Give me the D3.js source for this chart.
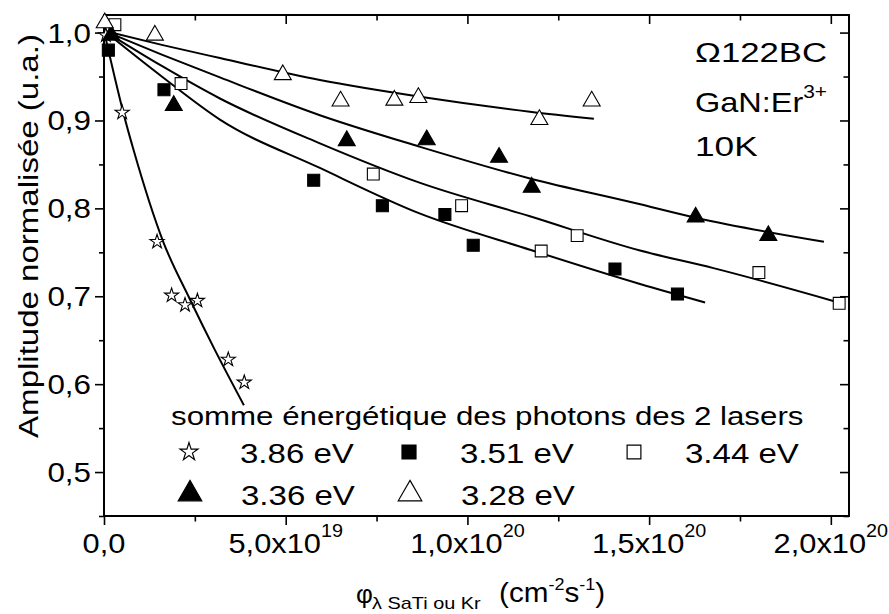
<!DOCTYPE html>
<html><head><meta charset="utf-8">
<script src="https://cdn.jsdelivr.net/npm/d3@7"></script>
<style>
body{margin:0;background:#fff}
text{font-family:"Liberation Sans",Arial,sans-serif;fill:#000}
</style>
</head><body>
<svg id="c" width="889" height="614"></svg>
<script>
// ---- data ----
const xMajor = [0, 5e19, 1e20, 1.5e20, 2e20];
const xMinor = [2.5e19, 7.5e19, 1.25e20, 1.75e20];
const xTickBase = ["0,0", "5,0x10", "1,0x10", "1,5x10", "2,0x10"];
const xTickExp  = ["", "19", "20", "20", "20"];
const yMajor = [0.5, 0.6, 0.7, 0.8, 0.9, 1.0];
const yMinor = [0.45, 0.55, 0.65, 0.75, 0.85, 0.95];
const yTickLabels = ["0,5", "0,6", "0,7", "0,8", "0,9", "1,0"];

const seriesNames = ["3.86 eV", "3.51 eV", "3.44 eV", "3.36 eV", "3.28 eV"];

// 3.86 eV (open stars)
const s386X = [0.05e19, 0.5e19, 1.46e19, 1.86e19, 2.23e19, 2.57e19, 3.42e19, 3.86e19];
const s386Y = [0.997, 0.909, 0.762, 0.701, 0.690, 0.695, 0.628, 0.602];
// 3.51 eV (filled squares)
const s351X = [0.12e19, 1.65e19, 5.77e19, 7.66e19, 9.38e19, 10.16e19, 14.06e19, 15.78e19];
const s351Y = [0.980, 0.935, 0.832, 0.803, 0.793, 0.758, 0.731, 0.7025];
// 3.44 eV (open squares)
const s344X = [0.3e19, 2.12e19, 7.41e19, 9.84e19, 12.03e19, 13.02e19, 18.02e19, 20.23e19];
const s344Y = [1.009, 0.942, 0.839, 0.803, 0.7515, 0.769, 0.727, 0.692];
// 3.36 eV (filled triangles)
const s336X = [0.2e19, 1.92e19, 6.68e19, 8.88e19, 10.87e19, 11.77e19, 16.28e19, 18.28e19];
const s336Y = [0.997, 0.917, 0.877, 0.878, 0.858, 0.824, 0.790, 0.769];
// 3.28 eV (open triangles)
const s328X = [0.02e19, 1.4e19, 4.92e19, 6.51e19, 7.99e19, 8.65e19, 11.98e19, 13.42e19];
const s328Y = [1.011, 0.997, 0.952, 0.922, 0.923, 0.926, 0.901, 0.922];

// fitted curves
const f386X = [0, 0.62e19, 0.81e19, 1.63e19, 2.37e19, 3.05e19, 3.85e19];
const f386Y = [1.002, 0.895, 0.867, 0.762, 0.696, 0.639, 0.576];
const f351X = [0, 1.59e19, 3.19e19, 5.94e19, 8.70e19, 11.72e19, 14.75e19, 16.54e19];
const f351Y = [1.002, 0.950, 0.901, 0.846, 0.794, 0.753, 0.714, 0.693];
const f344X = [0, 1.59e19, 3.19e19, 5.94e19, 8.70e19, 11.72e19, 14.75e19, 16.77e19, 20.21e19];
const f344Y = [1.002, 0.962, 0.925, 0.874, 0.829, 0.791, 0.752, 0.732, 0.693];
const f336X = [0, 1.59e19, 3.19e19, 5.94e19, 8.70e19, 11.72e19, 14.61e19, 16.31e19, 19.81e19];
const f336Y = [1.002, 0.975, 0.949, 0.906, 0.870, 0.834, 0.806, 0.789, 0.762];
const f328X = [0, 1.59e19, 3.19e19, 5.94e19, 8.70e19, 11.72e19, 13.48e19];
const f328Y = [1.002, 0.986, 0.971, 0.946, 0.927, 0.910, 0.902];

// ---- chart ----
const svg = d3.select("#c");
const L = 104, R = 849, T = 15, B = 516;
const x = d3.scaleLinear().domain([0, 2.05e20]).range([L, R]);
const y = d3.scaleLinear().domain([0.45, 1.02]).range([B, T]);

const zip = (a, b) => a.map((v, i) => [v, b[i]]);

const series = [
  {pts: zip(s386X, s386Y), fit: zip(f386X, f386Y), sym: d3.symbolStar, size: 62, fill: "#fff"},
  {pts: zip(s351X, s351Y), fit: zip(f351X, f351Y), sym: d3.symbolSquare, size: 144, fill: "#000"},
  {pts: zip(s344X, s344Y), fit: zip(f344X, f344Y), sym: d3.symbolSquare, size: 140, fill: "#fff"},
  {pts: zip(s336X, s336Y), fit: zip(f336X, f336Y), sym: d3.symbolTriangle, size: 125, fill: "#000"},
  {pts: zip(s328X, s328Y), fit: zip(f328X, f328Y), sym: d3.symbolTriangle, size: 125, fill: "#fff"}
];

// axes
function axisG(axis, tx, ty) {
  const g = svg.append("g").attr("transform", `translate(${tx},${ty})`).call(axis);
  g.select(".domain").remove();
  g.selectAll("line").attr("stroke", "#000").attr("stroke-width", 1.6);
  g.selectAll("text").remove();
  return g;
}
axisG(d3.axisBottom(x).tickValues(xMajor).tickSize(9), 0, B);
axisG(d3.axisBottom(x).tickValues(xMinor).tickSize(5.5), 0, B);
axisG(d3.axisTop(x).tickValues(xMajor).tickSize(-9), 0, T);
axisG(d3.axisTop(x).tickValues(xMinor).tickSize(-5.5), 0, T);
axisG(d3.axisLeft(y).tickValues(yMajor).tickSize(9), L, 0);
axisG(d3.axisLeft(y).tickValues(yMinor).tickSize(5), L, 0);
axisG(d3.axisRight(y).tickValues(yMajor).tickSize(-9), R, 0);
axisG(d3.axisRight(y).tickValues(yMinor).tickSize(-5.5), R, 0);

svg.append("rect").attr("x", L).attr("y", T).attr("width", R - L).attr("height", B - T)
  .attr("fill", "none").attr("stroke", "#000").attr("stroke-width", 2);

// y tick labels
yMajor.forEach((v, i) => {
  svg.append("text").attr("transform", `translate(91,${y(v) + 10}) scale(1.12,1)`)
    .attr("text-anchor", "end").attr("font-size", 28).text(yTickLabels[i]);
});
// x tick labels
xMajor.forEach((v, i) => {
  const t = svg.append("text").attr("font-size", 28)
    .attr("transform", `translate(${x(v)},553) scale(1.1,1)`);
  t.append("tspan").text(xTickBase[i]);
  if (xTickExp[i]) t.append("tspan").attr("font-size", 18).attr("dy", -16).text(xTickExp[i]);
  const w = t.node().getComputedTextLength();
  t.attr("x", -w / 2);
});

// axis titles
svg.append("text").attr("transform", `translate(38,236) rotate(-90) scale(1.18,1)`)
  .attr("text-anchor", "middle").attr("font-size", 28).text("Amplitude normalisée (u.a.)");

svg.append("text").attr("x", 356).attr("y", 603).attr("font-size", 26).text("φ");
svg.append("text").attr("transform", "translate(372,609) scale(1.17,1)").attr("font-size", 17)
  .text("λ SaTi ou Kr");
const xt = svg.append("text").attr("font-size", 28).attr("transform", "translate(499,602) scale(1.06,1)");
xt.append("tspan").text("(cm");
xt.append("tspan").attr("font-size", 17).attr("dy", -12).text("-2");
xt.append("tspan").attr("dy", 12).text("s");
xt.append("tspan").attr("font-size", 17).attr("dy", -12).text("-1");
xt.append("tspan").attr("dy", 12).text(")");

// fitted curves
const line = d3.line().x(d => x(d[0])).y(d => y(d[1])).curve(d3.curveMonotoneX);
series.forEach(s => {
  svg.append("path").attr("d", line(s.fit)).attr("fill", "none")
    .attr("stroke", "#000").attr("stroke-width", 2);
});

// markers
series.forEach(s => {
  svg.append("g").selectAll("path").data(s.pts).join("path")
    .attr("transform", d => `translate(${x(d[0])},${y(d[1])})`)
    .attr("d", d3.symbol().type(s.sym).size(s.size))
    .attr("fill", s.fill).attr("stroke", "#000").attr("stroke-width", 1.1);
});

// annotation
const ann = svg.append("g").attr("transform", "translate(695,0)");
ann.append("text").attr("transform", `translate(0,62) scale(1.24,1)`).attr("font-size", 28).text("Ω122BC");
const g2 = ann.append("text").attr("transform", `translate(0,112) scale(1.16,1)`).attr("font-size", 28);
g2.append("tspan").text("GaN:Er");
g2.append("tspan").attr("font-size", 18).attr("dy", -14).text("3+");
ann.append("text").attr("transform", `translate(0,156) scale(1.26,1)`).attr("font-size", 28).text("10K");

// legend
svg.append("text").attr("transform", `translate(171,425) scale(1.18,1)`).attr("font-size", 26.5)
  .text("somme énergétique des photons des 2 lasers");
const legPos = [[189, 452], [409, 452], [634, 452], [190, 494], [410, 494]];
const legSize = [100, 196, 190, 240, 240];
series.forEach((s, i) => {
  const [lx, ly] = legPos[i];
  svg.append("path").attr("transform", `translate(${lx},${ly})`)
    .attr("d", d3.symbol().type(s.sym).size(legSize[i]))
    .attr("fill", s.fill).attr("stroke", "#000").attr("stroke-width", 1.2);
  svg.append("text").attr("transform", `translate(${lx + 51},${ly + 11}) scale(1.18,1)`)
    .attr("font-size", 28).text(seriesNames[i]);
});
</script>
</body></html>
